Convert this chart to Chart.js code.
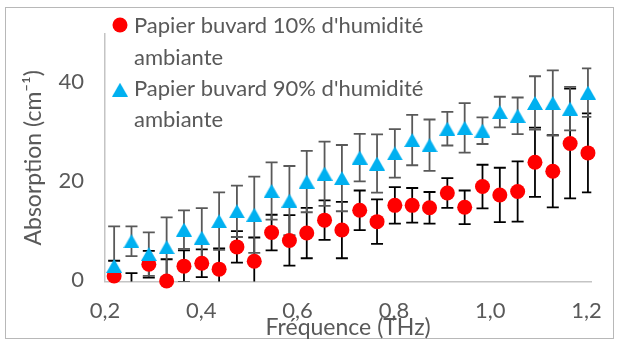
<!DOCTYPE html>
<html><head><meta charset="utf-8">
<script src="https://cdn.jsdelivr.net/npm/chart.js@4/dist/chart.umd.min.js"></script>
<style>
html,body{margin:0;padding:0;background:#fff;}
#wrap{position:relative;width:618px;height:342px;overflow:hidden;}
#frame{position:absolute;left:5px;top:7px;width:609px;height:332px;border:1px solid #b8b8b8;box-sizing:border-box;}
#c{position:absolute;left:0;top:0;}
</style></head>
<body>
<div id="wrap"><div id="frame"></div><canvas id="c" width="618" height="342"></canvas></div>
<script>
// ---- data ----
const freqTHz = [0.219, 0.255, 0.291, 0.328, 0.364, 0.401, 0.437, 0.474, 0.510, 0.546, 0.583, 0.619, 0.656, 0.692,
                 0.729, 0.765, 0.802, 0.838, 0.874, 0.911, 0.947, 0.984, 1.020, 1.057, 1.093, 1.130, 1.166, 1.203];
const absorption10 = [1.1, -3.5, 3.5, 0.1, 3.1, 3.7, 2.5, 7.0, 4.1, 9.9, 8.3, 9.8, 12.4, 10.4,
                      14.4, 12.1, 15.4, 15.4, 14.9, 17.9, 15.0, 19.2, 17.5, 18.2, 24.1, 22.3, 27.9, 26.0];
const error10 = [3.1, 5.2, 2.7, 4.4, 3.2, 2.8, 4.2, 3.2, 4.8, 3.6, 5.1, 5.1, 4.0, 5.7,
                 4.0, 4.5, 3.7, 3.5, 3.2, 3.0, 3.4, 4.4, 5.5, 6.1, 7.0, 7.3, 11.1, 8.0];
const absorption90 = [3.15, 8.15, 5.55, 6.95, 10.5, 8.85, 12.2, 14.2, 13.5, 18.3, 16.35, 20.2, 21.8, 20.9,
                      25.05, 23.85, 25.9, 28.6, 27.55, 30.9, 31.05, 30.5, 34.25, 33.5, 36.1, 36.1, 34.95, 38.2];
const error90 = [8.0, 3.0, 4.4, 6.0, 3.9, 6.0, 5.8, 5.2, 7.7, 5.8, 7.0, 6.2, 6.5, 6.7,
                 4.8, 5.9, 4.9, 5.1, 5.2, 3.4, 5.0, 2.7, 3.1, 3.7, 5.4, 6.6, 4.4, 4.9];
const seriesNames = [["Papier buvard 10% d'humidité", "ambiante"], ["Papier buvard 90% d'humidité", "ambiante"]];
const xTickValues = [0.2, 0.4, 0.6, 0.8, 1.0, 1.2];
const yTickValues = [0, 20, 40];
const xTitle = "Fréquence (THz)";
const yTitle = "Absorption (cm⁻¹)";

const RED = '#FF0000', BLUE = '#00B0F0', TXT = '#595959';
const FONT = 'Lato, "Open Sans", sans-serif';

// triangle marker centred on its bounding box (like the reference)
function makeTriangle(w, h) {
  const c = document.createElement('canvas');
  c.width = w; c.height = h;
  const g = c.getContext('2d');
  g.fillStyle = BLUE;
  g.beginPath(); g.moveTo(w / 2, 0); g.lineTo(w, h); g.lineTo(0, h); g.closePath(); g.fill();
  return c;
}
const tri = makeTriangle(16, 14);

const pts10 = freqTHz.map((x, i) => ({x, y: absorption10[i], e: error10[i]}));
const pts90 = freqTHz.map((x, i) => ({x, y: absorption90[i], e: error90[i]}));

const errorBars = {
  id: 'errorBars',
  beforeDatasetsDraw(chart) {
    const {ctx, chartArea: a, scales: {x, y}} = chart;
    ctx.save();
    ctx.beginPath(); ctx.rect(a.left, a.top, a.right - a.left, a.bottom - a.top); ctx.clip();
    chart.data.datasets.forEach((ds, di) => {
      ctx.strokeStyle = ds.errColor; ctx.lineWidth = 1.8;
      ds.data.forEach(p => {
        const px = x.getPixelForValue(p.x);
        const y1 = y.getPixelForValue(p.y + p.e), y2 = y.getPixelForValue(p.y - p.e);
        ctx.beginPath();
        ctx.moveTo(px, y1); ctx.lineTo(px, y2);
        ctx.moveTo(px - 6, y1); ctx.lineTo(px + 6, y1);
        ctx.moveTo(px - 6, y2); ctx.lineTo(px + 6, y2);
        ctx.stroke();
      });
    });
    ctx.restore();
  }
};

const legendPlugin = {
  id: 'legendInside',
  afterDraw(chart) {
    const ctx = chart.ctx;
    ctx.save();
    ctx.font = '22px ' + FONT;
    ctx.fillStyle = TXT; ctx.textBaseline = 'alphabetic'; ctx.textAlign = 'left';
    ctx.fillText(seriesNames[0][0], 134, 33);
    ctx.fillText(seriesNames[0][1], 134, 65);
    ctx.fillText(seriesNames[1][0], 134, 95.5);
    ctx.fillText(seriesNames[1][1], 134, 127);
    ctx.fillStyle = RED;
    ctx.beginPath(); ctx.arc(120, 25, 7.5, 0, Math.PI * 2); ctx.fill();
    ctx.drawImage(tri, 120 - 8, 89.7 - 7);
    ctx.restore();
  }
};

new Chart(document.getElementById('c'), {
  type: 'scatter',
  data: {
    datasets: [
      {label: seriesNames[0].join(' '), data: pts10, order: 2, errColor: '#000000',
       pointStyle: 'circle', pointRadius: 7.5, pointHoverRadius: 7.5, pointBorderWidth: 0,
       backgroundColor: RED, borderColor: RED, clip: {left: 10, right: 10, top: 10, bottom: 8}},
      {label: seriesNames[1].join(' '), data: pts90, order: 1, errColor: '#595959',
       pointStyle: tri, pointRadius: 8, pointHoverRadius: 8, pointBorderWidth: 0,
       backgroundColor: BLUE, borderColor: BLUE, clip: {left: 10, right: 10, top: 10, bottom: 8}}
    ]
  },
  options: {
    responsive: false, animation: false, events: [],
    layout: {padding: {top: 28, right: 25, left: 0, bottom: 0}},
    plugins: {legend: {display: false}, tooltip: {enabled: false}},
    scales: {
      x: {
        type: 'linear', min: 0.2, max: 1.21,
        afterBuildTicks: s => { s.ticks = xTickValues.map(v => ({value: v})); },
        afterFit: s => { s.height = 60.5; },
        grid: {display: false, drawTicks: false},
        border: {display: true, color: '#c4c4c4', width: 1.5},
        ticks: {padding: 16, color: TXT, font: {family: FONT, size: 22},
                callback: v => v.toFixed(1).replace('.', ','), maxRotation: 0, autoSkip: false},
        title: {display: true, text: xTitle, color: TXT, font: {family: FONT, size: 23}, padding: {top: 0, bottom: 1}}
      },
      y: {
        type: 'linear', min: 0, max: 50,
        afterBuildTicks: s => { s.ticks = yTickValues.map(v => ({value: v})); },
        afterFit: s => { s.width = 105; },
        grid: {display: false, drawTicks: false},
        border: {display: true, color: '#c4c4c4', width: 1.5},
        ticks: {padding: 21, labelOffset: -2, color: TXT, font: {family: FONT, size: 22}},
        title: {display: true, text: yTitle, color: TXT, font: {family: FONT, size: 23}, padding: {top: 20, bottom: 0}}
      }
    }
  },
  plugins: [errorBars, legendPlugin]
});
</script>
</body></html>
